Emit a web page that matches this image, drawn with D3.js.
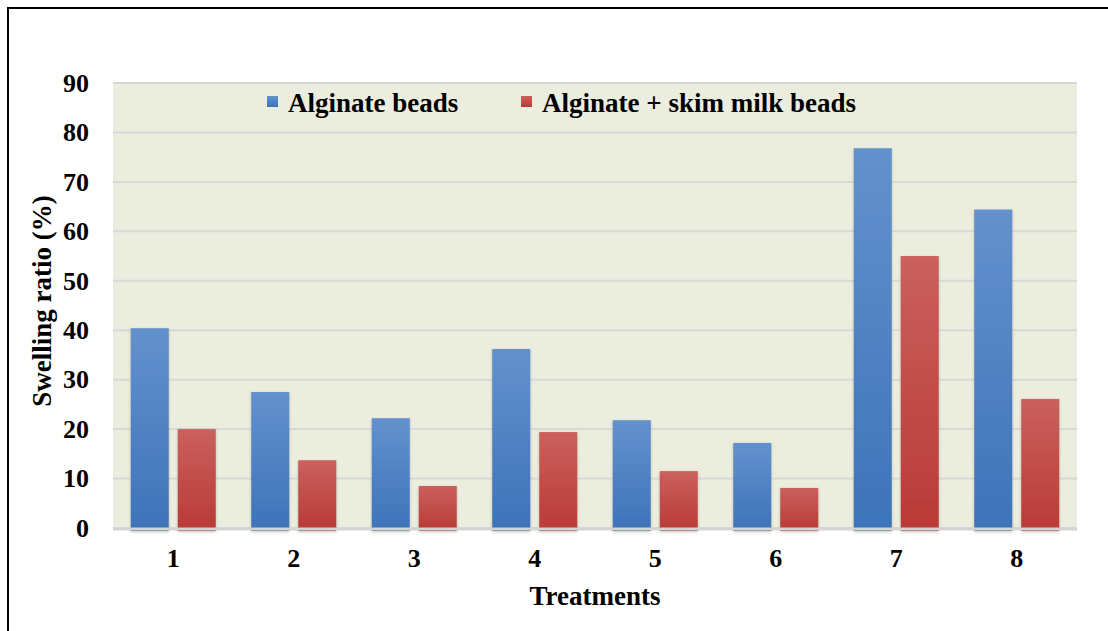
<!DOCTYPE html>
<html>
<head>
<meta charset="utf-8">
<script src="https://cdn.jsdelivr.net/npm/d3@7"></script>
</head>
<body style="margin:0;background:#fff">
<div id="chart"></div>
<script>
// treatments and swelling ratio (%) for each bead type
var treatments = ["1", "2", "3", "4", "5", "6", "7", "8"];
var alginate = [40.4, 27.5, 22.2, 36.2, 21.8, 17.2, 76.8, 64.4];
var alginateMilk = [20.0, 13.7, 8.5, 19.4, 11.5, 8.1, 55.0, 26.1];
var seriesNames = ["Alginate beads", "Alginate + skim milk beads"];
var yTicks = [0, 10, 20, 30, 40, 50, 60, 70, 80, 90];

var width = 1108, height = 631;
var margin = {top: 83, right: 31, bottom: 103, left: 113};
var plotW = width - margin.left - margin.right;
var plotH = height - margin.top - margin.bottom;
var serif = "'Liberation Serif', 'Times New Roman', serif";

function textStyle(size) {
  return function(sel) {
    sel.style("font-family", serif)
      .style("font-weight", "bold")
      .style("font-size", size + "px")
      .style("fill", "#000");
  };
}

var svg = d3.select("#chart").append("svg")
  .attr("width", width)
  .attr("height", height)
  .style("display", "block");

var defs = svg.append("defs");
var gradBlue = defs.append("linearGradient").attr("id", "gBlue")
  .attr("x1", 0).attr("y1", 0).attr("x2", 0).attr("y2", 1);
gradBlue.append("stop").attr("offset", "0%").attr("stop-color", "#6391cd");
gradBlue.append("stop").attr("offset", "100%").attr("stop-color", "#3d73b9");
var gradRed = defs.append("linearGradient").attr("id", "gRed")
  .attr("x1", 0).attr("y1", 0).attr("x2", 0).attr("y2", 1);
gradRed.append("stop").attr("offset", "0%").attr("stop-color", "#cb605d");
gradRed.append("stop").attr("offset", "100%").attr("stop-color", "#b93a36");

var shadow = defs.append("filter").attr("id", "shadow")
  .attr("x", "-20%").attr("y", "-5%").attr("width", "140%").attr("height", "115%");
shadow.append("feDropShadow").attr("dx", 0).attr("dy", 1)
  .attr("stdDeviation", 1.5).attr("flood-color", "#7a7a60").attr("flood-opacity", 0.45);

// outer frame (top + left lines)
svg.append("line").attr("x1", 7).attr("y1", 8).attr("x2", width).attr("y2", 8)
  .attr("stroke", "#000").attr("stroke-width", 2);
svg.append("line").attr("x1", 8).attr("y1", 7).attr("x2", 8).attr("y2", height)
  .attr("stroke", "#000").attr("stroke-width", 2);

var g = svg.append("g").attr("transform", "translate(" + margin.left + "," + margin.top + ")");

var x = d3.scaleBand().domain(treatments).range([0, plotW]).paddingInner(0).paddingOuter(0);
var y = d3.scaleLinear().domain([0, 90]).range([plotH, 0]);

g.append("rect").attr("width", plotW).attr("height", plotH).attr("fill", "#ebeedf");

// gridlines
g.selectAll(".grid").data(yTicks).enter().append("line")
  .attr("x1", 0).attr("x2", plotW)
  .attr("y1", function(d) { return y(d); })
  .attr("y2", function(d) { return y(d); })
  .attr("stroke", "#d8d8d8")
  .attr("stroke-width", 2);

var barW = 38, gap = 9;
var inner = d3.scaleBand().domain([0, 1])
  .range([x.bandwidth() / 2 - barW - gap / 2, x.bandwidth() / 2 + barW + gap / 2])
  .paddingInner(gap / (barW + gap)).paddingOuter(0);

var rows = treatments.map(function(t, i) { return {t: t, vals: [alginate[i], alginateMilk[i]]}; });

var groups = g.selectAll(".grp").data(rows).enter().append("g")
  .attr("transform", function(d) { return "translate(" + x(d.t) + ",0)"; });

groups.selectAll("rect").data(function(d) { return d.vals.map(function(v, k) { return {v: v, k: k}; }); })
  .enter().append("rect")
  .attr("x", function(d) { return inner(d.k); })
  .attr("width", inner.bandwidth())
  .attr("y", function(d) { return y(d.v); })
  .attr("height", function(d) { return y(0) - y(d.v) + 3; })
  .attr("fill", function(d) { return d.k === 0 ? "url(#gBlue)" : "url(#gRed)"; })
  .attr("filter", "url(#shadow)");

// baseline
g.append("line").attr("x1", 0).attr("x2", plotW)
  .attr("y1", y(0) + 1).attr("y2", y(0) + 1)
  .attr("stroke", "#d4d4d4").attr("stroke-width", 3);

// y axis labels
var yAxis = d3.axisLeft(y).tickValues(yTicks).tickSize(0).tickPadding(24);
g.append("g").call(yAxis)
  .call(function(s) { s.select(".domain").remove(); })
  .selectAll("text")
  .call(textStyle(26));

// x axis labels
var xAxis = d3.axisBottom(x).tickSize(0).tickPadding(21);
g.append("g").attr("transform", "translate(0," + plotH + ")").call(xAxis)
  .call(function(s) { s.select(".domain").remove(); })
  .selectAll("text")
  .call(textStyle(26));

// axis titles
svg.append("text").attr("x", 595).attr("y", 605)
  .attr("text-anchor", "middle").call(textStyle(27)).text("Treatments");
svg.append("text")
  .attr("transform", "translate(51,301) rotate(-90)")
  .attr("text-anchor", "middle").call(textStyle(27)).text("Swelling ratio (%)");

// legend
var legendX = [267, 521];
var legend = svg.selectAll(".leg").data(seriesNames).enter().append("g")
  .attr("transform", function(d, i) { return "translate(" + legendX[i] + ",96)"; });
legend.append("rect").attr("width", 11).attr("height", 11)
  .attr("fill", function(d, i) { return i === 0 ? "url(#gBlue)" : "url(#gRed)"; });
legend.append("text").attr("x", 21).attr("y", 16).call(textStyle(27))
  .text(function(d) { return d; });
</script>
</body>
</html>
